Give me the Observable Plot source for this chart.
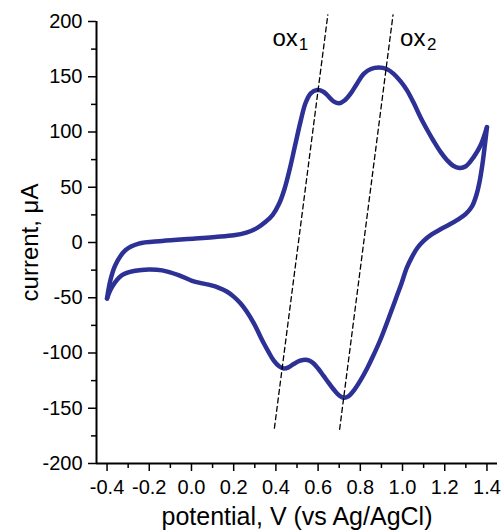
<!DOCTYPE html>
<html>
<head>
<meta charset="utf-8">
<script src="https://cdn.jsdelivr.net/npm/d3@7"></script>
<script src="https://cdn.jsdelivr.net/npm/@observablehq/plot@0.6"></script>
<style>
  html, body { margin: 0; padding: 0; background: #fff; }
</style>
</head>
<body>
<div id="chart"></div>
<script>
// Forward (anodic) scan: potential (V) and current (µA)
const potentialFwd = [-0.40, -0.384, -0.361, -0.313, -0.25, -0.139, 0.018, 0.113, 0.20, 0.26, 0.31, 0.35, 0.385, 0.415, 0.44, 0.465, 0.49, 0.515, 0.54, 0.565, 0.595, 0.625, 0.65, 0.675, 0.70, 0.725, 0.753, 0.785, 0.816, 0.85, 0.887, 0.925, 0.958, 0.99, 1.022, 1.055, 1.085, 1.118, 1.148, 1.18, 1.211, 1.24, 1.27, 1.30, 1.337, 1.37, 1.40];
const currentFwd   = [-50.6, -34, -20.5, -7, -1, 1.4, 3.6, 5, 6.5, 9, 13, 18.5, 25, 35, 48, 66, 87, 108, 126, 135, 138, 136.5, 132, 127.5, 126, 128.5, 134.5, 144, 152.6, 157, 158.4, 157, 152.6, 146, 137.5, 125.5, 113.4, 101.6, 91.6, 82, 74.5, 69.5, 67.5, 69, 77.3, 88, 104.4];
// Reverse (cathodic) scan
const potentialRev = [1.40, 1.39, 1.378, 1.365, 1.35, 1.33, 1.30, 1.26, 1.22, 1.18, 1.14, 1.10, 1.07, 1.045, 1.02, 0.995, 0.97, 0.943, 0.895, 0.86, 0.832, 0.80, 0.769, 0.745, 0.721, 0.70, 0.674, 0.65, 0.627, 0.60, 0.579, 0.56, 0.54, 0.515, 0.484, 0.46, 0.437, 0.415, 0.39, 0.365, 0.342, 0.295, 0.26, 0.232, 0.20, 0.169, 0.13, 0.09, 0.05, 0.003, -0.061, -0.139, -0.203, -0.266, -0.329, -0.376, -0.40];
const currentRev   = [104.4, 88, 70, 55, 43, 33, 26, 20.5, 16, 12, 7.5, 1.5, -5, -13, -23, -37, -50, -64, -88, -103, -114, -125, -134, -139, -140.5, -138.5, -133, -127, -121, -114, -109.5, -107, -106, -107, -110, -113, -114, -112, -107, -99, -91, -73, -62, -55, -49, -44.6, -41, -38.6, -37, -34.7, -29.5, -25.2, -24.4, -25.6, -29.5, -40, -50.6];

// Dashed guide lines through the two redox peaks
const dashV1 = [0.393, 0.646];
const dashI1 = [-168, 206];
const dashV2 = [0.702, 0.955];
const dashI2 = [-169, 206];

// Tick values
const xTicks = [-0.4, -0.2, 0.0, 0.2, 0.4, 0.6, 0.8, 1.0, 1.2, 1.4];
const xMinor = [-0.3, -0.1, 0.1, 0.3, 0.5, 0.7, 0.9, 1.1, 1.3];
const yTicks = [-200, -150, -100, -50, 0, 50, 100, 150, 200];
const yMinor = [-175, -125, -75, -25, 25, 75, 125, 175];

const xLabel = "potential, V (vs Ag/AgCl)";
const yLabel = "current, μA";
const peakNames = ["ox", "ox"];
const peakSubs = ["1", "2"];

const cv = [
  ...potentialFwd.map((v, i) => ({branch: "forward", V: v, I: currentFwd[i]})),
  ...potentialRev.map((v, i) => ({branch: "reverse", V: v, I: currentRev[i]}))
];
const guide1 = dashV1.map((v, i) => ({V: v, I: dashI1[i]}));
const guide2 = dashV2.map((v, i) => ({V: v, I: dashI2[i]}));
const top1 = [guide1[1]];
const top2 = [guide2[1]];

const xDomain = [-0.45, 1.45];
const yDomain = [-200, 200];
const blue = "#2d3196";

const chart = Plot.plot({
  width: 502,
  height: 530,
  marginLeft: 96,
  marginRight: 5,
  marginTop: 21,
  marginBottom: 67,
  x: {domain: xDomain},
  y: {domain: yDomain},
  style: {fontFamily: "'Liberation Sans', Arial, sans-serif", fontSize: "20px", color: "black", background: "white"},
  marks: [
    Plot.axisY(yTicks, {tickSize: 8, tickPadding: 6, strokeWidth: 1.5, fontSize: 20, label: null, tickFormat: d => String(d)}),
    Plot.axisY(yMinor, {tickSize: 5, strokeWidth: 1.5, label: null, tickFormat: () => ""}),
    Plot.axisX(xTicks, {tickSize: 8, tickPadding: 8, strokeWidth: 1.5, fontSize: 20, label: null, tickFormat: d => d.toFixed(1)}),
    Plot.axisX(xMinor, {tickSize: 5, strokeWidth: 1.5, label: null, tickFormat: () => ""}),
    Plot.ruleX([xDomain[0]], {strokeWidth: 2}),
    Plot.ruleY([yDomain[0]], {strokeWidth: 2}),
    Plot.line(cv, {x: "V", y: "I", z: "branch", curve: "catmull-rom", stroke: blue, strokeWidth: 4.5, strokeLinejoin: "round", strokeLinecap: "round"}),
    Plot.line(guide1, {x: "V", y: "I", stroke: "black", strokeWidth: 1.3, strokeDasharray: "5,3.5"}),
    Plot.line(guide2, {x: "V", y: "I", stroke: "black", strokeWidth: 1.3, strokeDasharray: "5,3.5"}),
    Plot.text(top1, {x: "V", y: "I", text: () => peakNames[0], textAnchor: "end", lineAnchor: "bottom", dx: -30, dy: 31, fontSize: 24}),
    Plot.text(top1, {x: "V", y: "I", text: () => peakSubs[0], textAnchor: "start", lineAnchor: "bottom", dx: -29, dy: 35, fontSize: 17}),
    Plot.text(top2, {x: "V", y: "I", text: () => peakNames[1], textAnchor: "start", lineAnchor: "bottom", dx: 7, dy: 31, fontSize: 24}),
    Plot.text(top2, {x: "V", y: "I", text: () => peakSubs[1], textAnchor: "start", lineAnchor: "bottom", dx: 34, dy: 35, fontSize: 17}),
    Plot.text([xLabel], {frameAnchor: "bottom", text: d => d, textAnchor: "middle", lineAnchor: "bottom", dy: 61, fontSize: 25}),
    Plot.text([yLabel], {frameAnchor: "left", text: d => d, textAnchor: "middle", rotate: -90, lineAnchor: "bottom", dx: -59, fontSize: 24})
  ]
});
document.getElementById("chart").appendChild(chart);
</script>
</body>
</html>
